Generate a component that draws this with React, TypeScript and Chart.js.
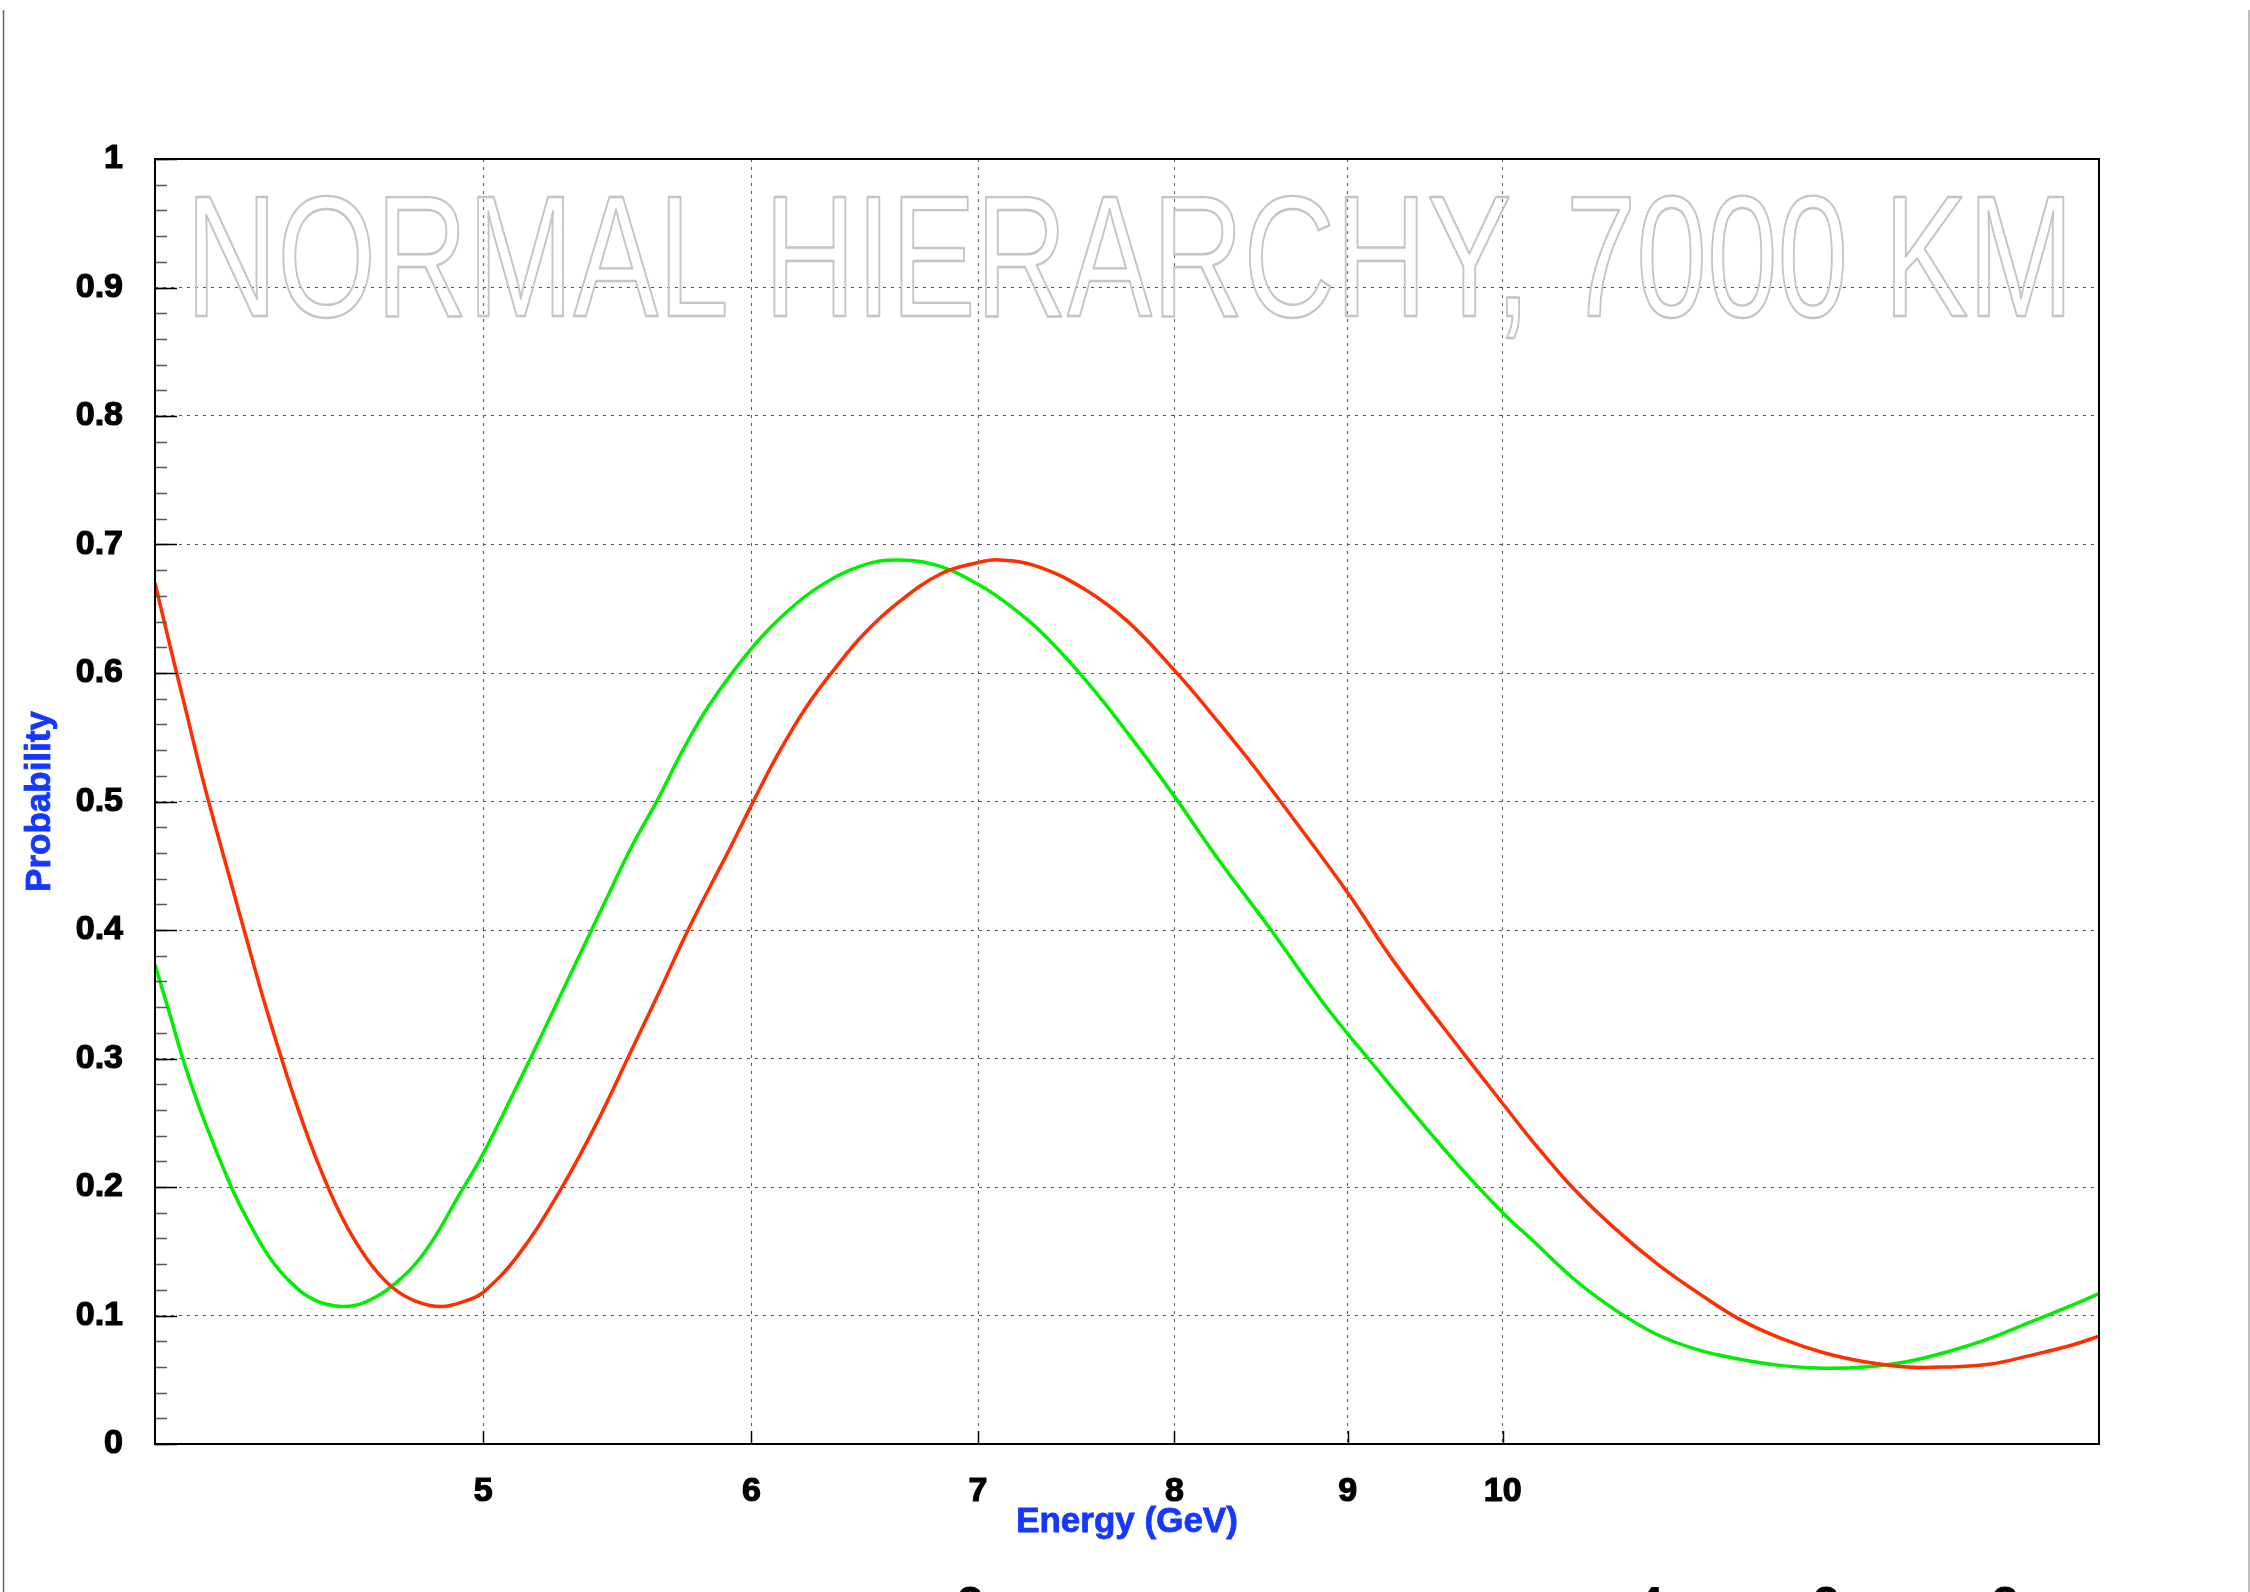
import React, { useEffect, useRef } from 'react';
import { Chart, registerables } from 'chart.js';

Chart.register(...registerables);

// ---- Data ----
const redEnergy = [
  4.0, 4.042, 4.083, 4.137, 4.213, 4.257, 4.313, 4.39, 4.459, 4.541, 4.623, 4.7, 4.777, 4.861, 4.948,
  5.0, 5.117, 5.265, 5.404, 5.518, 5.634, 5.752, 5.904, 6.0, 6.11, 6.23, 6.353, 6.475, 6.624, 6.823,
  7.0, 7.101, 7.287, 7.528, 7.751, 8.0, 8.188, 8.4, 8.677, 9.0, 9.29, 9.75, 10.0, 10.21, 10.5, 10.8,
  11.11, 11.43, 11.75, 12.09, 12.44, 12.79, 13.16, 13.54, 13.92, 14.32, 14.73, 15.0,
];
const redProb = [
  0.670, 0.620, 0.573, 0.512, 0.436, 0.393, 0.340, 0.275, 0.225, 0.177, 0.143, 0.122, 0.111, 0.107, 0.112,
  0.118, 0.146, 0.196, 0.251, 0.301, 0.351, 0.402, 0.460, 0.497, 0.537, 0.574, 0.604, 0.630, 0.654, 0.677,
  0.686, 0.688, 0.683, 0.665, 0.640, 0.602, 0.571, 0.535, 0.486, 0.429, 0.375, 0.302, 0.265, 0.235, 0.198, 0.167,
  0.140, 0.117, 0.097, 0.082, 0.071, 0.064, 0.060, 0.060, 0.062, 0.069, 0.077, 0.084,
];
const greenEnergy = [
  4.0, 4.042, 4.083, 4.137, 4.213, 4.257, 4.322, 4.39, 4.459, 4.541, 4.611, 4.7, 4.804, 4.922,
  5.0, 5.117, 5.211, 5.322, 5.432, 5.529, 5.634, 5.722, 5.827, 6.0, 6.149, 6.29, 6.475, 6.634, 6.823,
  7.0, 7.148, 7.313, 7.528, 7.751, 8.0, 8.242, 8.543, 8.853, 9.126, 9.65, 10.0, 10.21, 10.5, 10.8,
  11.11, 11.43, 11.75, 12.09, 12.44, 12.79, 13.16, 13.54, 13.92, 14.32, 14.73, 15.0,
];
const greenProb = [
  0.373, 0.333, 0.294, 0.251, 0.200, 0.176, 0.146, 0.125, 0.112, 0.107, 0.110, 0.123, 0.149, 0.195,
  0.226, 0.279, 0.322, 0.373, 0.422, 0.464, 0.503, 0.538, 0.574, 0.619, 0.648, 0.668, 0.684, 0.688, 0.683,
  0.669, 0.653, 0.631, 0.595, 0.553, 0.504, 0.455, 0.400, 0.343, 0.300, 0.224, 0.180, 0.158, 0.128, 0.104,
  0.085, 0.073, 0.066, 0.061, 0.059, 0.060, 0.064, 0.072, 0.082, 0.095, 0.108, 0.117,
];

const xTickValues = [5, 6, 7, 8, 9, 10];
const xMin = 4;
const xMax = 15;
const yMin = 0;
const yMax = 1;
const yStep = 0.1;
const yMinorStep = 0.02;

const titleText = 'NORMAL HIERARCHY, 7000 KM';
const xAxisTitle = 'Energy (GeV)';
const yAxisTitle = 'Probability';
const bottomGlyphs = ['2', '4', '2', '3'];

// ---- Layout / style ----
const W = 2250;
const H = 1592;
const PLOT_LEFT = 155;
const PLOT_TOP = 159;
const PLOT_RIGHT = 2099;
const PLOT_BOTTOM = 1444;
const bottomGlyphX = [970, 1650, 1826, 2005];
const FONT = '"Liberation Sans", Arial, Helvetica, sans-serif';
const BLUE = '#1438ff';

const decorPlugin = {
  id: 'decor',
  beforeDatasetsDraw(chart: any) {
    const { ctx, chartArea: a } = chart;
    ctx.save();
    ctx.font = `172px ${FONT}`;
    const m = ctx.measureText(titleText);
    const inkW = m.actualBoundingBoxLeft + m.actualBoundingBoxRight;
    const tLeft = a.left + 41;
    const tRight = a.right - 35;
    const sx = (tRight - tLeft) / inkW;
    ctx.translate(tLeft + m.actualBoundingBoxLeft * sx, a.top + 157);
    ctx.scale(sx, 1);
    ctx.textAlign = 'left';
    ctx.textBaseline = 'alphabetic';
    ctx.strokeStyle = '#c4c4c4';
    ctx.lineWidth = 2.4;
    ctx.lineJoin = 'round';
    ctx.strokeText(titleText, 0, 0);
    ctx.restore();
  },
  afterDraw(chart: any) {
    const { ctx, chartArea: a } = chart;
    const ys = chart.scales.y;
    const xs = chart.scales.x;
    ctx.save();
    // minor y ticks
    ctx.strokeStyle = '#555';
    ctx.lineWidth = 1.5;
    const nMinor = Math.round((yMax - yMin) / yMinorStep);
    for (let i = 0; i <= nMinor; i++) {
      const v = yMin + i * yMinorStep;
      const py = Math.round(ys.getPixelForValue(v)) + 0.5;
      ctx.beginPath();
      ctx.moveTo(a.left, py);
      ctx.lineTo(a.left + 12, py);
      ctx.stroke();
    }
    // major y ticks
    ctx.strokeStyle = '#000';
    ctx.lineWidth = 1.5;
    const nMajor = Math.round((yMax - yMin) / yStep);
    for (let i = 0; i <= nMajor; i++) {
      const v = yMin + i * yStep;
      const py = Math.round(ys.getPixelForValue(v)) + 0.5;
      ctx.beginPath();
      ctx.moveTo(a.left, py);
      ctx.lineTo(a.left + 22, py);
      ctx.stroke();
    }
    // x ticks
    for (const v of xTickValues) {
      const px = Math.round(xs.getPixelForValue(v)) + 0.5;
      ctx.beginPath();
      ctx.moveTo(px, a.bottom);
      ctx.lineTo(px, a.bottom - 13);
      ctx.stroke();
    }
    // frame
    ctx.strokeStyle = '#000';
    ctx.lineWidth = 2;
    ctx.strokeRect(a.left, a.top, a.right - a.left, a.bottom - a.top);

    // axis titles
    ctx.fillStyle = BLUE;
    ctx.strokeStyle = BLUE;
    ctx.lineWidth = 0.8;
    ctx.font = `bold 35px ${FONT}`;
    ctx.textAlign = 'center';
    ctx.textBaseline = 'alphabetic';
    const cx = (a.left + a.right) / 2;
    ctx.fillText(xAxisTitle, cx, 1532);
    ctx.strokeText(xAxisTitle, cx, 1532);
    ctx.save();
    ctx.translate(50, (a.top + a.bottom) / 2);
    ctx.rotate(-Math.PI / 2);
    ctx.fillText(yAxisTitle, 0, 0);
    ctx.strokeText(yAxisTitle, 0, 0);
    ctx.restore();

    // page edge lines
    ctx.strokeStyle = '#666';
    ctx.lineWidth = 1.5;
    ctx.beginPath();
    ctx.moveTo(3.5, 10);
    ctx.lineTo(3.5, H);
    ctx.stroke();
    ctx.strokeStyle = '#aaa';
    ctx.beginPath();
    ctx.moveTo(W - 1, 10);
    ctx.lineTo(W - 1, H);
    ctx.stroke();

    // cut-off glyphs at the page bottom
    ctx.fillStyle = '#000';
    ctx.font = `bold 48px ${FONT}`;
    ctx.textAlign = 'center';
    bottomGlyphs.forEach((g, i) => ctx.fillText(g, bottomGlyphX[i], 1620));
    ctx.restore();
  },
};

export default function App() {
  const ref = useRef<HTMLCanvasElement | null>(null);

  useEffect(() => {
    if (!ref.current) return;
    const redData = redEnergy.map((e, i) => ({ x: e, y: redProb[i] }));
    const greenData = greenEnergy.map((e, i) => ({ x: e, y: greenProb[i] }));
    const tickFont = { family: FONT, weight: 'bold' as const, size: 34 };
    const chart = new Chart(ref.current, {
      type: 'line',
      data: {
        datasets: [
          {
            label: 'red',
            data: redData,
            borderColor: '#ff2d00',
            borderWidth: 3.5,
            pointRadius: 0,
            fill: false,
            tension: 0.4,
          },
          {
            label: 'green',
            data: greenData,
            borderColor: '#00ee00',
            borderWidth: 3.5,
            pointRadius: 0,
            fill: false,
            tension: 0.4,
          },
        ],
      },
      options: {
        animation: false,
        responsive: false,
        devicePixelRatio: 1,
        layout: { padding: { top: PLOT_TOP, right: W - PLOT_RIGHT, left: 0, bottom: 0 } },
        plugins: { legend: { display: false }, tooltip: { enabled: false }, title: { display: false } },
        scales: {
          x: {
            type: 'logarithmic',
            min: xMin,
            max: xMax,
            afterBuildTicks: (s: any) => {
              s.ticks = xTickValues.map((v) => ({ value: v }));
            },
            afterFit: (s: any) => {
              s.height = H - PLOT_BOTTOM;
            },
            ticks: {
              autoSkip: false,
              maxRotation: 0,
              minRotation: 0,
              padding: 27,
              color: '#000',
              textStrokeColor: '#000',
              textStrokeWidth: 1.2,
              font: tickFont,
              callback: (v: any) => String(v),
            },
            grid: { display: true, drawTicks: false, color: '#555', lineWidth: 1 },
            border: { display: false, dash: [3, 5] },
          },
          y: {
            type: 'linear',
            min: yMin,
            max: yMax,
            afterFit: (s: any) => {
              s.width = PLOT_LEFT;
            },
            ticks: {
              stepSize: yStep,
              padding: 32,
              color: '#000',
              textStrokeColor: '#000',
              textStrokeWidth: 1.2,
              font: tickFont,
              callback: (v: any) => String(Number(Number(v).toFixed(1))),
            },
            grid: { display: true, drawTicks: false, color: '#555', lineWidth: 1 },
            border: { display: false, dash: [3, 5] },
          },
        },
      },
      plugins: [decorPlugin],
    } as any);
    return () => chart.destroy();
  }, []);

  return (
    <div style={{ position: 'absolute', left: 0, top: 0, width: W, height: H, background: '#fff' }}>
      <canvas ref={ref} width={W} height={H} style={{ width: W, height: H, display: 'block' }} />
    </div>
  );
}
